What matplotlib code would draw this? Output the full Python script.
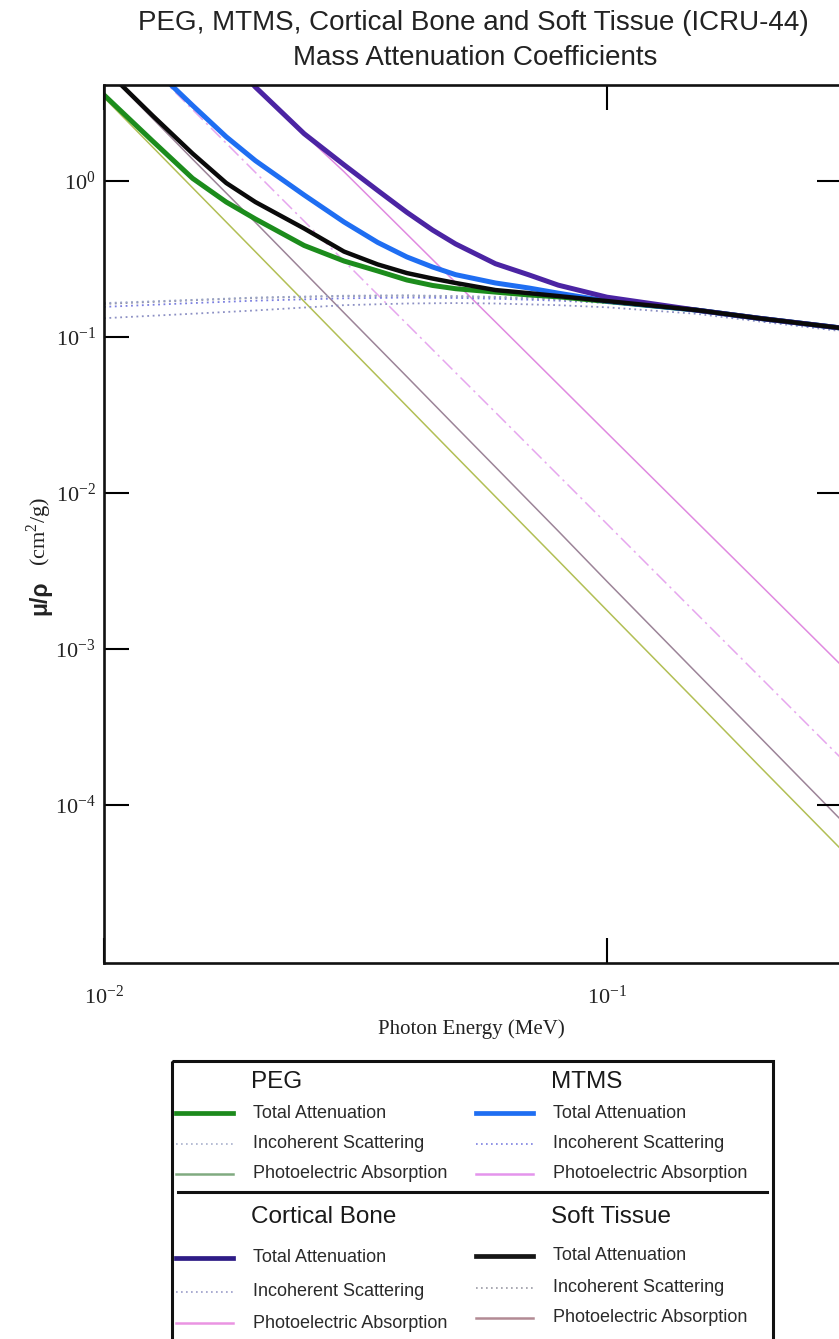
import matplotlib
matplotlib.use('Agg')
import matplotlib.pyplot as plt
from matplotlib.patches import Rectangle
from matplotlib.ticker import FixedLocator, NullLocator

# photon energy grids (MeV)
ENERGY = [0.01, 0.015, 0.02, 0.03, 0.04, 0.05, 0.06, 0.08, 0.1, 0.15, 0.2, 0.3]
ENERGY_TOTAL = [0.01, 0.0125, 0.015, 0.0175, 0.02, 0.025, 0.03, 0.035, 0.04, 0.045,
                0.05, 0.06, 0.07, 0.08, 0.1, 0.15, 0.2, 0.3]

# mass attenuation coefficients (cm^2/g)
PEG_TOTAL = [3.56, 1.80, 1.04, 0.733, 0.571, 0.386, 0.307, 0.265, 0.232, 0.214,
             0.204, 0.194, 0.186, 0.181, 0.169, 0.149, 0.132, 0.113]
PEG_INCOH = [0.165, 0.173, 0.179, 0.184, 0.185, 0.183, 0.181, 0.175, 0.167, 0.148, 0.131, 0.111]
PEG_PHOTO = [3.43, 0.905, 0.352, 0.0926, 0.0360, 0.01726, 0.00948, 0.00369, 0.001767, 4.66e-4, 1.80e-4, 4.76e-5]

MTMS_TOTAL = [11.2, 5.35, 3.05, 1.92, 1.35, 0.813, 0.546, 0.404, 0.326, 0.281,
              0.251, 0.222, 0.206, 0.191, 0.170, 0.149, 0.132, 0.113]
MTMS_INCOH = [0.156, 0.165, 0.171, 0.177, 0.179, 0.178, 0.176, 0.171, 0.165, 0.147, 0.130, 0.110]
MTMS_PHOTO = [10.6, 2.87, 1.135, 0.307, 0.1214, 0.0591, 0.0329, 0.0130, 0.00633, 0.00171, 6.77e-4, 1.83e-4]

BONE_TOTAL = [42.0, 20.5, 11.5, 6.4, 4.0, 2.01, 1.27, 0.87, 0.63, 0.485,
              0.395, 0.295, 0.25, 0.215, 0.180, 0.149, 0.132, 0.113]
BONE_INCOH = [0.132, 0.141, 0.148, 0.160, 0.164, 0.165, 0.164, 0.160, 0.155, 0.141, 0.126, 0.108]
BONE_PHOTO = [38.6, 10.5, 3.9, 1.147, 0.457, 0.2236, 0.125, 0.0497, 0.0243, 0.00664, 0.00265, 7.23e-4]

SOFT_TOTAL = [5.3, 2.62, 1.50, 0.971, 0.733, 0.496, 0.353, 0.292, 0.257, 0.237,
              0.222, 0.200, 0.191, 0.183, 0.170, 0.149, 0.132, 0.113]
SOFT_INCOH = [0.163, 0.172, 0.178, 0.183, 0.184, 0.182, 0.180, 0.174, 0.166, 0.148, 0.131, 0.111]
SOFT_PHOTO = [5.22, 1.38, 0.543, 0.143, 0.0557, 0.0267, 0.01468, 0.0057, 0.00271, 7.14e-4, 2.78e-4, 7.33e-5]

X_TICKS = [0.01, 0.1]
Y_TICKS_LEFT = [1, 0.1, 0.01, 1e-3, 1e-4]
Y_TICKS_RIGHT = [1, 0.01, 1e-4]

SERIF = 'Liberation Serif'
SANS = 'Liberation Sans'
plt.rcParams['font.family'] = SANS

W, H = 839, 1339
fig = plt.figure(figsize=(W / 100, H / 100), dpi=100)

# main axes (right edge sits just past the image border)
ax = fig.add_axes([104 / W, 1 - 963 / H, (842 - 104) / W, (963 - 85) / H])
ax.set_xscale('log')
ax.set_yscale('log')

# photoelectric absorption
ax.plot(ENERGY, PEG_PHOTO, color='#b2bf55', lw=1.1)
ax.plot(ENERGY, SOFT_PHOTO, color='#9c8498', lw=1.1)
ax.plot(ENERGY, MTMS_PHOTO, color='#e6a6ee', lw=1.1, linestyle=(0, (9, 3, 1.5, 3)))
ax.plot(ENERGY, BONE_PHOTO, color='#e08ae0', lw=1.1)

# incoherent scattering
dots = (0, (1, 2))
ax.plot(ENERGY, BONE_INCOH, color='#8c90c4', lw=1.3, linestyle=dots)
ax.plot(ENERGY, MTMS_INCOH, color='#7b7fe0', lw=1.3, linestyle=dots)
ax.plot(ENERGY, SOFT_INCOH, color='#8a8a9a', lw=1.3, linestyle=dots)
ax.plot(ENERGY, PEG_INCOH, color='#9aa4c8', lw=1.3, linestyle=dots)

# total attenuation
ax.plot(ENERGY_TOTAL, PEG_TOTAL, color='#1c8c1c', lw=3.6, solid_joinstyle='round')
ax.plot(ENERGY_TOTAL, MTMS_TOTAL, color='#1f6ef2', lw=3.6, solid_joinstyle='round')
ax.plot(ENERGY_TOTAL, BONE_TOTAL, color='#4b24a3', lw=3.6, solid_joinstyle='round')
ax.plot(ENERGY_TOTAL, SOFT_TOTAL, color='#0a0a0a', lw=3.2, solid_joinstyle='round')

ax.set_xlim(0.01, 0.2932)
ax.set_ylim(9.71e-6, 4.125)

ax.xaxis.set_major_locator(FixedLocator(X_TICKS))
ax.yaxis.set_major_locator(FixedLocator(Y_TICKS_LEFT))
ax.xaxis.set_minor_locator(NullLocator())
ax.yaxis.set_minor_locator(NullLocator())
ax.tick_params(which='major', direction='in', length=18, width=1.5, top=True, right=False,
               labelsize=16, labelfontfamily=SERIF, labelcolor='#222222')
ax.tick_params(axis='x', pad=16)
ax.tick_params(axis='y', pad=6)
for s in ax.spines.values():
    s.set_linewidth(1.9)
    s.set_color('#111111')

# right-hand ticks only every second decade
ax2 = ax.twinx()
ax2.set_yscale('log')
ax2.set_ylim(ax.get_ylim())
ax2.yaxis.set_major_locator(FixedLocator(Y_TICKS_RIGHT))
ax2.yaxis.set_minor_locator(NullLocator())
ax2.tick_params(direction='in', length=18, width=1.5, labelright=False)
for s in ax2.spines.values():
    s.set_visible(False)

# titles and axis labels
fig.text(473 / W, 1 - 30 / H, 'PEG, MTMS, Cortical Bone and Soft Tissue (ICRU-44)',
         ha='center', va='baseline', fontsize=20, color='#222222')
fig.text(475 / W, 1 - 65 / H, 'Mass Attenuation Coefficients',
         ha='center', va='baseline', fontsize=20, color='#222222')
fig.text(471 / W, 1 - 1029 / H, 'Photon Energy (MeV)', family=SERIF, fontsize=15,
         ha='center', va='center', color='#222222')
fig.text(40 / W, 1 - 598 / H, 'μ/ρ', fontsize=16.5, fontweight='bold', rotation=90,
         ha='center', va='center', color='#222222')
fig.text(39 / W, 1 - 532 / H, r'(cm$^{\mathdefault{2}}$/g)', family=SERIF, fontsize=16,
         rotation=90, ha='center', va='center', color='#222222')

# hand-made legend box, laid out in image pixels
lg = fig.add_axes([0, 0, 1, 1])
lg.set_xlim(0, W)
lg.set_ylim(H, 0)
lg.axis('off')
lg.add_patch(Rectangle((172, 1061), 601, 320, fill=False, lw=2.2, edgecolor='#111111'))
lg.plot([178, 767], [1192, 1192], color='#111111', lw=2.2)

groups = [
    ('PEG', 176, 1082, [1113, 1144, 1174], ['#1c8a1c', '#a8b0cc', '#80aa80']),
    ('MTMS', 476, 1082, [1113, 1144, 1174], ['#1f6ef2', '#7b7fe0', '#e494ec']),
    ('Cortical Bone', 176, 1217, [1258, 1292, 1323], ['#2e1c86', '#9a9cc8', '#ea94e2']),
    ('Soft Tissue', 476, 1217, [1256, 1288, 1318], ['#161616', '#9a9aa4', '#b28a94']),
]
names = ['Total Attenuation', 'Incoherent Scattering', 'Photoelectric Absorption']
styles = [(3.4, '-'), (1.2, (0, (1, 2))), (1.8, '-')]
for title, x0, ty, rows, cols in groups:
    lg.text(x0 + 75, ty, title, fontsize=17.5, va='center', ha='left', color='#1a1a1a')
    for ry, name, (lw, ls), c in zip(rows, names, styles, cols):
        lg.plot([x0, x0 + 57], [ry, ry], color=c, lw=lw, linestyle=ls)
        lg.text(x0 + 77, ry, name, fontsize=13, va='center', ha='left', color='#2a2a2a')

fig.savefig('out.png', dpi=100)
